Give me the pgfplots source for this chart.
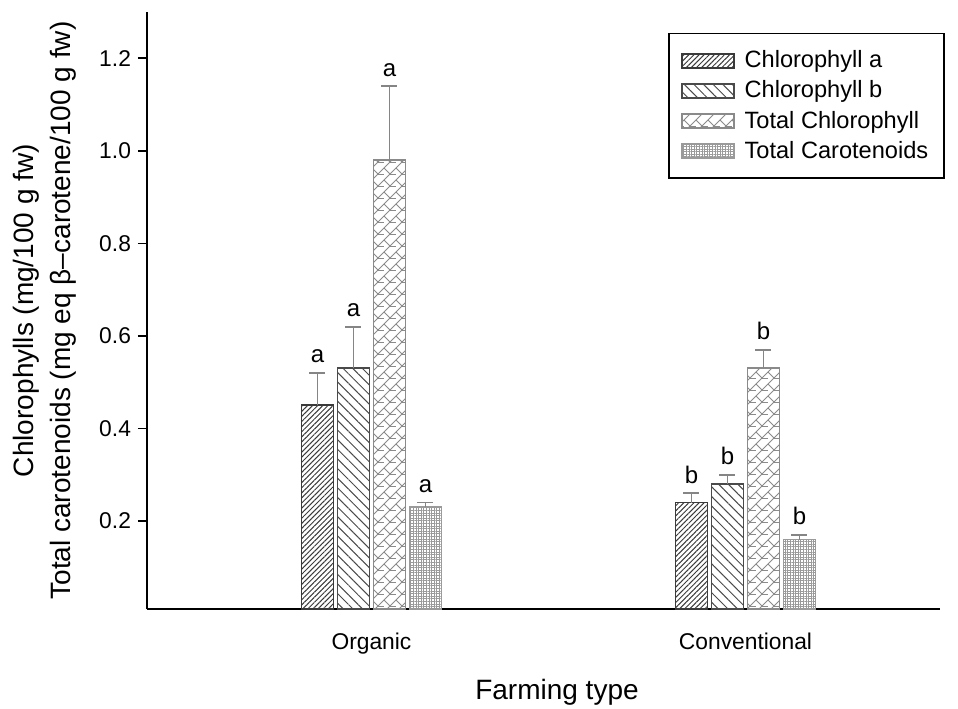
\documentclass[border=0pt]{standalone}
\usepackage{pgfplots}
\pgfplotsset{compat=1.18}
\usepackage{pgfplotstable}
\usepackage{fontspec}
\setmainfont{Liberation Sans}
\usetikzlibrary{patterns,patterns.meta}

% branched diagonal hatch used for the total chlorophyll bars
\tikzdeclarepattern{
  name=branch,
  type=uncolored,
  bottom left={(-0.1pt,-0.1pt)},
  top right={(6.1pt,6.1pt)},
  tile size={(6pt,6pt)},
  code={
    \draw[line width=0.4pt] (0pt,0pt) -- (6pt,6pt);
    \draw[line width=0.4pt] (0pt,6pt) -- (3pt,3pt);
    \draw[line width=0.4pt] (3pt,3pt) -- (6pt,3pt);
  }
}

\definecolor{edgeA}{HTML}{3A3A3A}
\definecolor{edgeB}{HTML}{4A4A4A}
\definecolor{edgeT}{HTML}{8A8A8A}
\definecolor{edgeC}{HTML}{9A9A9A}
\definecolor{errgray}{HTML}{858585}

% x: 1 = Organic, 2 = Conventional
\pgfplotstableread{
x y err
1 0.45 0.07
2 0.24 0.02
}\chla
\pgfplotstableread{
x y err
1 0.53 0.09
2 0.28 0.02
}\chlb
\pgfplotstableread{
x y err
1 0.98 0.16
2 0.53 0.04
}\chltot
\pgfplotstableread{
x y err
1 0.23 0.01
2 0.16 0.01
}\carot

\begin{document}
\begin{tikzpicture}
\begin{axis}[
  name=main,
  scale only axis,
  width=396.5pt, height=298.5pt,
  ybar=2pt, bar width=16pt,
  xmin=0.4, xmax=2.52, ymin=0.01, ymax=1.3,
  axis x line*=bottom, axis y line*=left,
  axis line style={line width=0.8pt, -},
  xtick={1,2}, xticklabels={Organic, Conventional},
  x tick style={draw=none},
  ytick={0.2,0.4,0.6,0.8,1.0,1.2},
  y tick style={line width=0.8pt, black},
  tick align=outside, major tick length=4.5pt,
  yticklabel style={/pgf/number format/.cd, fixed, fixed zerofill, precision=1, assume math mode=true},
  tick label style={font=\fontsize{11.4}{13}\selectfont},
  xticklabel style={yshift=-4pt},
  legend image code/.code={\draw[#1] (0pt,-3.5pt) rectangle (26pt,3.5pt);},
  legend cell align=left,
  legend style={at={(0.657,0.965)}, anchor=north west, draw=black, line width=0.8pt,
    font=\fontsize{11.8}{13}\selectfont, inner xsep=6pt, inner ysep=6.5pt, row sep=1pt,
    column sep=3pt},
  error bars/y dir=plus, error bars/y explicit,
  error bars/error bar style={errgray, line width=0.9pt},
  error bars/error mark options={errgray, rotate=90, mark size=4pt, line width=0.9pt},
]
\addplot[draw=edgeA, line width=0.9pt, pattern={Lines[angle=45,distance=1.8pt,line width=0.5pt]}, pattern color=edgeA]
  table[x=x, y=y, y error=err]{\chla};
\addplot[draw=edgeB, line width=0.9pt, pattern={Lines[angle=-45,distance=3.4pt,line width=0.5pt]}, pattern color=edgeB]
  table[x=x, y=y, y error=err]{\chlb};
\addplot[draw=edgeT, line width=0.9pt, pattern=branch, pattern color=edgeT]
  table[x=x, y=y, y error=err]{\chltot};
\addplot[draw=edgeC, line width=0.9pt, pattern={Hatch[angle=0,distance=1.3pt,line width=0.5pt]}, pattern color=edgeC]
  table[x=x, y=y, y error=err]{\carot};
\legend{Chlorophyll a, Chlorophyll b, Total Chlorophyll, Total Carotenoids}

% significance letters above the error bars
\begin{scope}[every node/.style={anchor=base, yshift=5pt, font=\fontsize{12}{13}\selectfont}]
\node[xshift=-27pt] at (axis cs:1,0.52) {a};
\node[xshift=-9pt]  at (axis cs:1,0.62) {a};
\node[xshift=9pt]   at (axis cs:1,1.14) {a};
\node[xshift=27pt]  at (axis cs:1,0.24) {a};
\node[xshift=-27pt] at (axis cs:2,0.26) {b};
\node[xshift=-9pt]  at (axis cs:2,0.30) {b};
\node[xshift=9pt]   at (axis cs:2,0.57) {b};
\node[xshift=27pt]  at (axis cs:2,0.17) {b};
\end{scope}
\end{axis}

\node[rotate=90, align=center, font=\fontsize{14}{18.5}\selectfont] at ([xshift=-51pt]main.west)
  {Chlorophylls (mg/100 g fw)\\Total carotenoids (mg eq β–carotene/100 g fw)};
\node[anchor=base, font=\fontsize{14}{16}\selectfont] at ([xshift=6.75pt, yshift=-45pt]main.south) {Farming type};

\pgfresetboundingbox
\path ([xshift=-73.5pt, yshift=-49.5pt]main.south west) rectangle ([xshift=9pt, yshift=6pt]main.north east);
\end{tikzpicture}
\end{document}
